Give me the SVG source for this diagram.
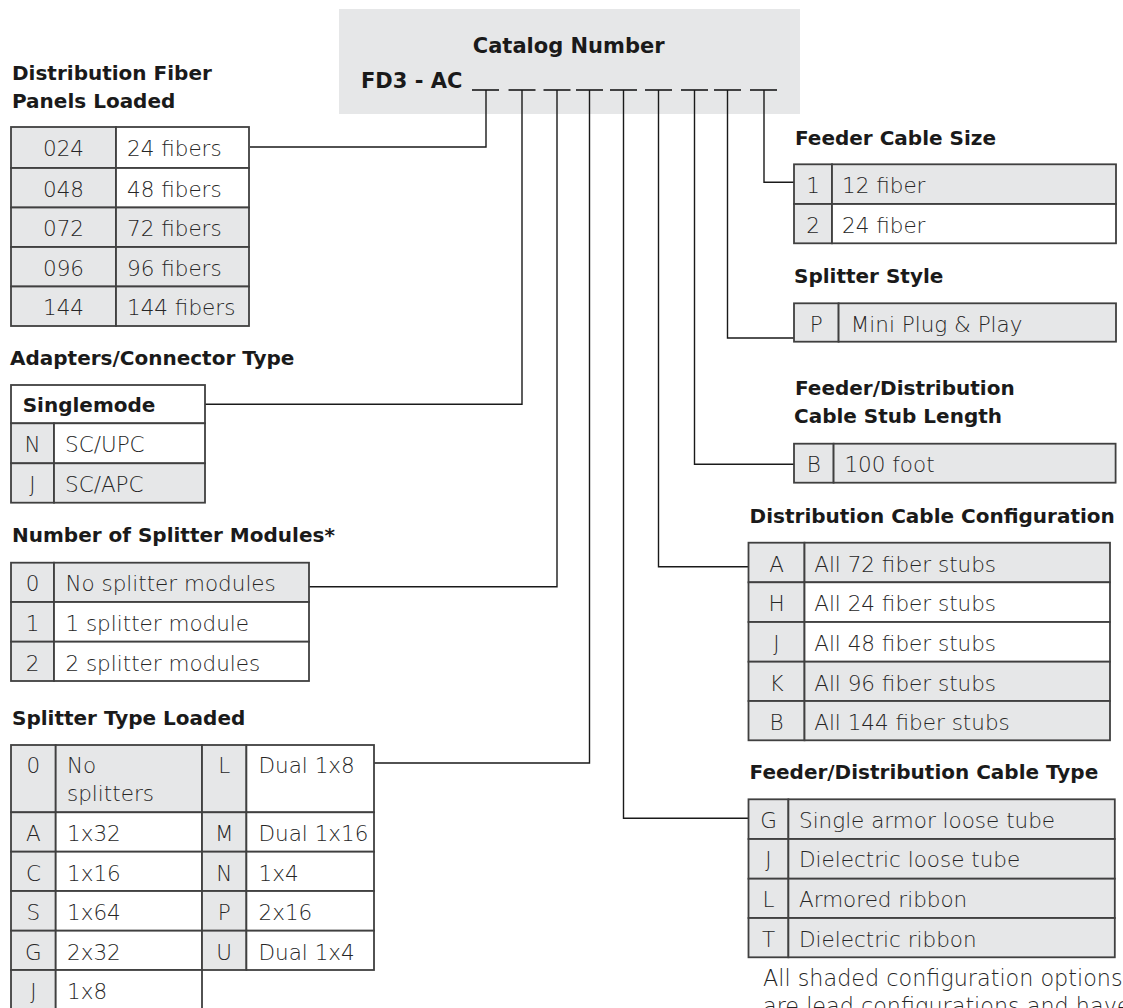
<svg xmlns="http://www.w3.org/2000/svg" width="1123" height="1008" viewBox="0 0 1123 1008">
<style>
.h{font-family:"DejaVu Sans","Liberation Sans",sans-serif;font-weight:bold;font-size:20px;fill:#1a1a1a}
.k{font-family:"DejaVu Sans","Liberation Sans",sans-serif;font-weight:bold;font-size:21px;fill:#1a1a1a}
.t{font-family:"DejaVu Sans","Liberation Sans",sans-serif;font-weight:300;font-size:21.5px;fill:#262626}
.f{font-size:22.3px}
.c{text-anchor:middle}
.g{fill:#e6e7e8;stroke:#404040;stroke-width:1.8}
.w{fill:#fff;stroke:#404040;stroke-width:1.8}
.conn{fill:none;stroke:#1a1a1a;stroke-width:1.4}
.dash{stroke:#1a1a1a;stroke-width:1.6}
</style>
<rect width="1123" height="1008" fill="#fff"/>

<g id="catalog">
<rect x="339" y="9" width="461" height="105" fill="#e6e7e8"/>
<text class="k c" x="568.7" y="52.7">Catalog Number</text>
<text class="k" x="361" y="87.7">FD3 - AC</text>
<g class="dash">
<line x1="472" y1="90" x2="499" y2="90"/>
<line x1="508.5" y1="90" x2="535.5" y2="90"/>
<line x1="543.5" y1="90" x2="570.5" y2="90"/>
<line x1="576" y1="90" x2="603" y2="90"/>
<line x1="610" y1="90" x2="637" y2="90"/>
<line x1="645" y1="90" x2="672" y2="90"/>
<line x1="681" y1="90" x2="708" y2="90"/>
<line x1="714" y1="90" x2="741" y2="90"/>
<line x1="750" y1="90" x2="777" y2="90"/>
</g>
</g>

<g id="connectors">
<polyline class="conn" points="486,90 486,147 250,147"/>
<polyline class="conn" points="522,90 522,404.3 205,404.3"/>
<polyline class="conn" points="557,90 557,586.7 309,586.7"/>
<polyline class="conn" points="589.5,90 589.5,763 374,763"/>
<polyline class="conn" points="623.5,90 623.5,818.3 748.5,818.3"/>
<polyline class="conn" points="658.5,90 658.5,566.7 748.5,566.7"/>
<polyline class="conn" points="694.5,90 694.5,464.3 794,464.3"/>
<polyline class="conn" points="727.5,90 727.5,338 794,338"/>
<polyline class="conn" points="764,90 764,182.3 794,182.3"/>
</g>

<g id="panels-loaded">
<text class="h" x="12" y="80">Distribution Fiber</text>
<text class="h" x="12" y="107.5">Panels Loaded</text>
<rect class="g" x="11" y="127" width="105" height="41"/><rect class="w" x="116" y="127" width="133" height="41"/>
<rect class="g" x="11" y="168" width="105" height="39.5"/><rect class="w" x="116" y="168" width="133" height="39.5"/>
<rect class="g" x="11" y="207.5" width="105" height="39.5"/><rect class="g" x="116" y="207.5" width="133" height="39.5"/>
<rect class="g" x="11" y="247" width="105" height="39.5"/><rect class="g" x="116" y="247" width="133" height="39.5"/>
<rect class="g" x="11" y="286.5" width="105" height="39.5"/><rect class="g" x="116" y="286.5" width="133" height="39.5"/>
<text class="t c" x="63.5" y="156">024</text><text class="t" x="127" y="156">24 fibers</text>
<text class="t c" x="63.5" y="196.5">048</text><text class="t" x="127" y="196.5">48 fibers</text>
<text class="t c" x="63.5" y="236">072</text><text class="t" x="127" y="236">72 fibers</text>
<text class="t c" x="63.5" y="275.5">096</text><text class="t" x="127" y="275.5">96 fibers</text>
<text class="t c" x="63.5" y="315">144</text><text class="t" x="127" y="315">144 fibers</text>
</g>

<g id="connector-type">
<text class="h" x="10" y="365">Adapters/Connector Type</text>
<rect class="w" x="11" y="385" width="194" height="38.3"/>
<rect class="g" x="11" y="423.3" width="43" height="40"/><rect class="w" x="54" y="423.3" width="151" height="40"/>
<rect class="g" x="11" y="463.3" width="43" height="39.4"/><rect class="g" x="54" y="463.3" width="151" height="39.4"/>
<text class="h" x="22.7" y="412.3">Singlemode</text>
<text class="t c" x="32.5" y="451.7">N</text><text class="t" x="65" y="451.7">SC/UPC</text>
<text class="t c" x="32.5" y="491.5">J</text><text class="t" x="65" y="491.5">SC/APC</text>
</g>

<g id="splitter-modules">
<text class="h" x="12" y="541.7">Number of Splitter Modules*</text>
<rect class="g" x="11" y="562.7" width="43" height="39.3"/><rect class="g" x="54" y="562.7" width="255" height="39.3"/>
<rect class="g" x="11" y="602" width="43" height="39.7"/><rect class="w" x="54" y="602" width="255" height="39.7"/>
<rect class="g" x="11" y="641.7" width="43" height="39.3"/><rect class="w" x="54" y="641.7" width="255" height="39.3"/>
<text class="t c" x="32.5" y="591">0</text><text class="t" x="65.4" y="591">No splitter modules</text>
<text class="t c" x="32.5" y="631">1</text><text class="t" x="65.4" y="631">1 splitter module</text>
<text class="t c" x="32.5" y="670.5">2</text><text class="t" x="65.4" y="670.5">2 splitter modules</text>
</g>

<g id="splitter-type">
<text class="h" x="12" y="725">Splitter Type Loaded</text>
<rect class="g" x="11" y="745" width="44.7" height="67.3"/><rect class="g" x="55.7" y="745" width="146.3" height="67.3"/>
<rect class="g" x="202" y="745" width="44.4" height="67.3"/><rect class="w" x="246.4" y="745" width="127.6" height="67.3"/>
<rect class="g" x="11" y="812.3" width="44.7" height="39.4"/><rect class="w" x="55.7" y="812.3" width="146.3" height="39.4"/>
<rect class="g" x="202" y="812.3" width="44.4" height="39.4"/><rect class="w" x="246.4" y="812.3" width="127.6" height="39.4"/>
<rect class="g" x="11" y="851.7" width="44.7" height="39.3"/><rect class="w" x="55.7" y="851.7" width="146.3" height="39.3"/>
<rect class="g" x="202" y="851.7" width="44.4" height="39.3"/><rect class="w" x="246.4" y="851.7" width="127.6" height="39.3"/>
<rect class="g" x="11" y="891" width="44.7" height="39.7"/><rect class="w" x="55.7" y="891" width="146.3" height="39.7"/>
<rect class="g" x="202" y="891" width="44.4" height="39.7"/><rect class="w" x="246.4" y="891" width="127.6" height="39.7"/>
<rect class="g" x="11" y="930.7" width="44.7" height="39.3"/><rect class="w" x="55.7" y="930.7" width="146.3" height="39.3"/>
<rect class="g" x="202" y="930.7" width="44.4" height="39.3"/><rect class="w" x="246.4" y="930.7" width="127.6" height="39.3"/>
<rect class="g" x="11" y="970" width="44.7" height="40"/><rect class="w" x="55.7" y="970" width="146.3" height="40"/>
<text class="t c" x="33.4" y="773.3">0</text><text class="t" x="67" y="773.3">No</text><text class="t" x="67" y="800.7">splitters</text>
<text class="t c" x="224.2" y="773.3">L</text><text class="t" x="258.5" y="773.3">Dual 1x8</text>
<text class="t c" x="33.4" y="841.3">A</text><text class="t" x="67" y="841.3">1x32</text>
<text class="t c" x="224.2" y="841.3">M</text><text class="t" x="258.5" y="841.3">Dual 1x16</text>
<text class="t c" x="33.4" y="880.5">C</text><text class="t" x="67" y="880.5">1x16</text>
<text class="t c" x="224.2" y="880.5">N</text><text class="t" x="258.5" y="880.5">1x4</text>
<text class="t c" x="33.4" y="919.7">S</text><text class="t" x="67" y="919.7">1x64</text>
<text class="t c" x="224.2" y="919.7">P</text><text class="t" x="258.5" y="919.7">2x16</text>
<text class="t c" x="33.4" y="959.5">G</text><text class="t" x="67" y="959.5">2x32</text>
<text class="t c" x="224.2" y="959.5">U</text><text class="t" x="258.5" y="959.5">Dual 1x4</text>
<text class="t c" x="33.4" y="998.7">J</text><text class="t" x="67" y="998.7">1x8</text>
</g>

<g id="feeder-cable-size">
<text class="h" x="795" y="145.3">Feeder Cable Size</text>
<rect class="g" x="794" y="164.3" width="38" height="39.7"/><rect class="g" x="832" y="164.3" width="284" height="39.7"/>
<rect class="g" x="794" y="204" width="38" height="39.3"/><rect class="w" x="832" y="204" width="284" height="39.3"/>
<text class="t c" x="813" y="193.3">1</text><text class="t" x="842" y="193.3">12 fiber</text>
<text class="t c" x="813" y="233">2</text><text class="t" x="842" y="233">24 fiber</text>
</g>

<g id="splitter-style">
<text class="h" x="794" y="283.3">Splitter Style</text>
<rect class="g" x="794" y="303.3" width="44.6" height="38.4"/><rect class="g" x="838.6" y="303.3" width="277.4" height="38.4"/>
<text class="t c" x="816.3" y="331.7">P</text><text class="t" x="850.8" y="331.7">Mini Plug &amp; Play</text>
</g>

<g id="stub-length">
<text class="h" x="795" y="395">Feeder/Distribution</text>
<text class="h" x="794" y="423.3">Cable Stub Length</text>
<rect class="g" x="794" y="443.7" width="39.6" height="39"/><rect class="g" x="833.6" y="443.7" width="282" height="39"/>
<text class="t c" x="813.8" y="471.7">B</text><text class="t" x="844.4" y="471.7">100 foot</text>
</g>

<g id="distribution-config">
<text class="h" x="749.6" y="523.3">Distribution Cable Configuration</text>
<rect class="g" x="748.5" y="542.7" width="56" height="39.6"/><rect class="g" x="804.5" y="542.7" width="305.5" height="39.6"/>
<rect class="g" x="748.5" y="582.3" width="56" height="39.7"/><rect class="w" x="804.5" y="582.3" width="305.5" height="39.7"/>
<rect class="g" x="748.5" y="622" width="56" height="39.7"/><rect class="w" x="804.5" y="622" width="305.5" height="39.7"/>
<rect class="g" x="748.5" y="661.7" width="56" height="39.3"/><rect class="g" x="804.5" y="661.7" width="305.5" height="39.3"/>
<rect class="g" x="748.5" y="701" width="56" height="39.3"/><rect class="g" x="804.5" y="701" width="305.5" height="39.3"/>
<text class="t c" x="776.5" y="571.7">A</text><text class="t" x="814.2" y="571.7">All 72 fiber stubs</text>
<text class="t c" x="776.5" y="611">H</text><text class="t" x="814.2" y="611">All 24 fiber stubs</text>
<text class="t c" x="776.5" y="650.5">J</text><text class="t" x="814.2" y="650.5">All 48 fiber stubs</text>
<text class="t c" x="776.5" y="690.5">K</text><text class="t" x="814.2" y="690.5">All 96 fiber stubs</text>
<text class="t c" x="776.5" y="730">B</text><text class="t" x="814.2" y="730">All 144 fiber stubs</text>
</g>

<g id="cable-type">
<text class="h" x="749.6" y="779.3">Feeder/Distribution Cable Type</text>
<rect class="g" x="748.5" y="799.3" width="39.9" height="39.7"/><rect class="g" x="788.4" y="799.3" width="326.4" height="39.7"/>
<rect class="g" x="748.5" y="839" width="39.9" height="39.7"/><rect class="g" x="788.4" y="839" width="326.4" height="39.7"/>
<rect class="g" x="748.5" y="878.7" width="39.9" height="39.3"/><rect class="g" x="788.4" y="878.7" width="326.4" height="39.3"/>
<rect class="g" x="748.5" y="918" width="39.9" height="39.3"/><rect class="g" x="788.4" y="918" width="326.4" height="39.3"/>
<text class="t c" x="768.5" y="827.7">G</text><text class="t" x="799" y="827.7">Single armor loose tube</text>
<text class="t c" x="768.5" y="867.3">J</text><text class="t" x="799" y="867.3">Dielectric loose tube</text>
<text class="t c" x="768.5" y="906.7">L</text><text class="t" x="799" y="906.7">Armored ribbon</text>
<text class="t c" x="768.5" y="946.7">T</text><text class="t" x="799" y="946.7">Dielectric ribbon</text>
</g>

<g id="footnote">
<text class="t f" x="763" y="985.5">All shaded configuration options</text>
<text class="t f" x="763" y="1014">are lead configurations and have</text>
</g>
</svg>
